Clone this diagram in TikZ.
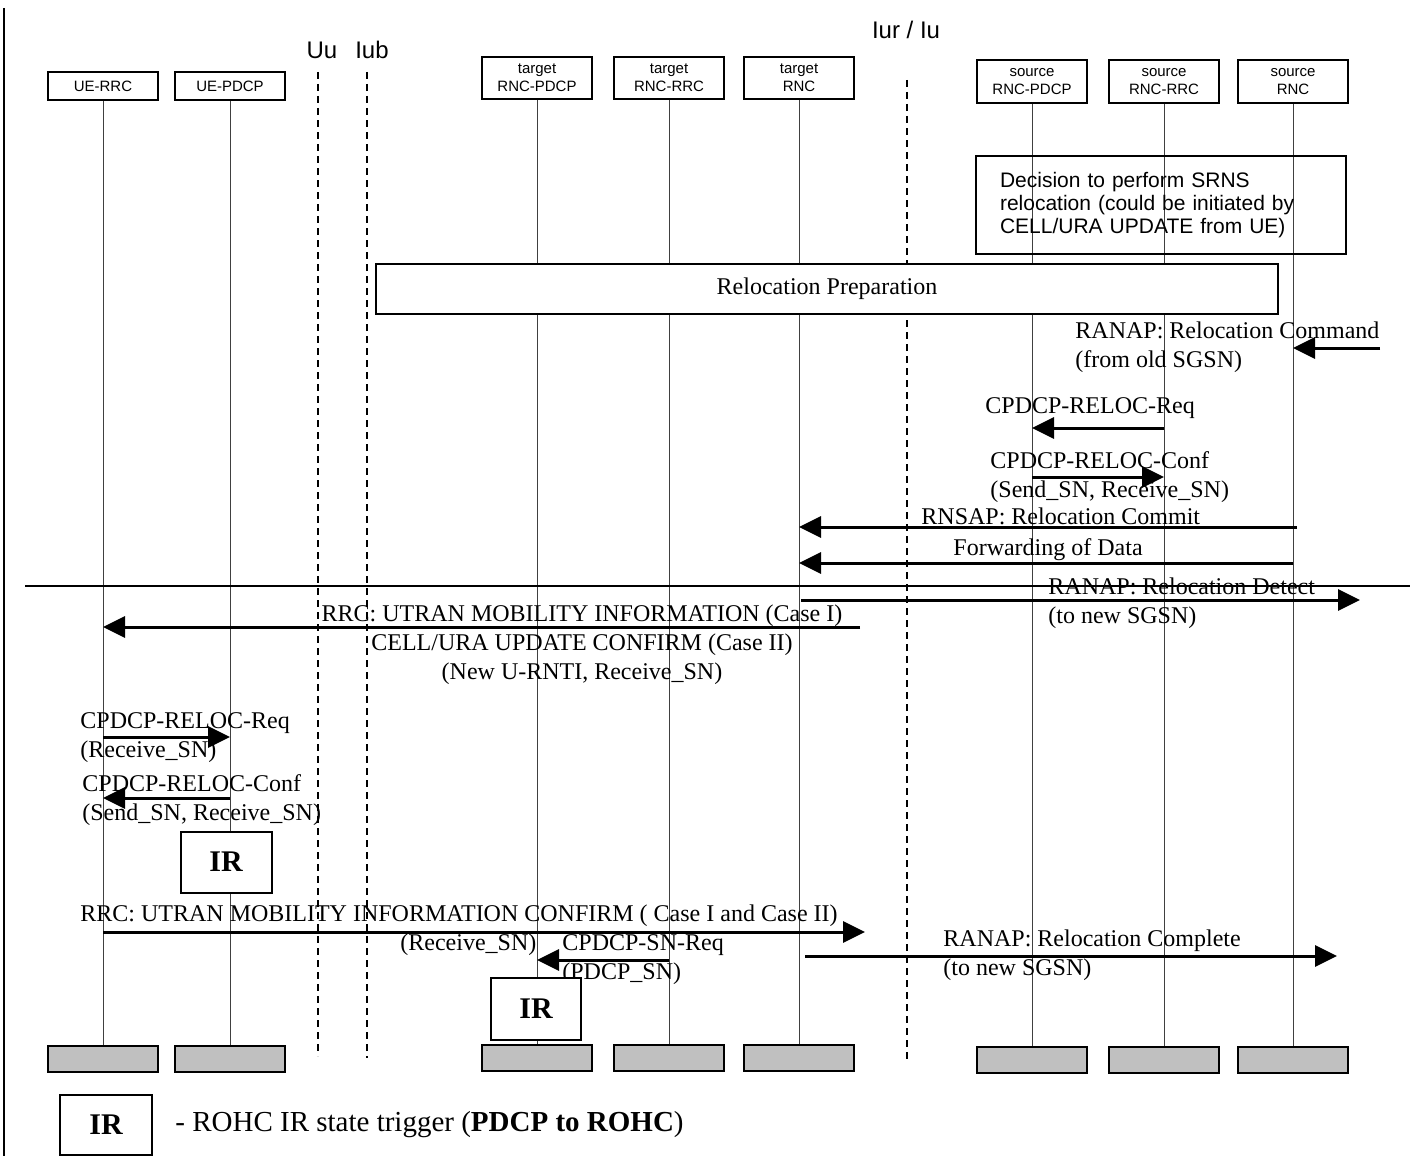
\documentclass[tikz,border=0pt]{standalone}
\usepackage{fontspec}
\setmainfont{Liberation Serif}
\setsansfont{Liberation Sans}
\usetikzlibrary{arrows.meta}
\definecolor{gboxgray}{RGB}{192,192,192}
\tikzset{
  hbox/.style={draw, line width=1pt, font=\sffamily\fontsize{7.5}{9}\selectfont, align=center, minimum width=55pt, inner sep=1pt},
  gbox/.style={draw, line width=0.9pt, fill=gboxgray, minimum width=55pt, minimum height=13pt, inner sep=0pt},
  life/.style={line width=0.5pt, draw=black!75},
  iface/.style={line width=0.8pt, dash pattern=on 3.5pt off 2.5pt},
  msg/.style={line width=1.5pt, -{Triangle[length=11pt,width=10.5pt]}},
  lbl/.style={font=\fontsize{12}{14.5}\selectfont, inner sep=0pt, align=left, anchor=west},
  irbox/.style={draw, line width=1pt, fill=white, minimum width=45.5pt, minimum height=30.5pt, inner sep=0pt, font=\bfseries\fontsize{15}{18}\selectfont},
  ifl/.style={font=\sffamily\fontsize{12}{14}\selectfont, inner sep=0pt}
}
\begin{document}
\begin{tikzpicture}[x=0.5pt,y=-0.5pt]
\useasboundingbox (0,0) rectangle (1417,1156);
% left border
\coordinate (lb1) at (4,8); \coordinate (lb2) at (4,1156);
\draw[line width=1pt] (lb1) -- (lb2);

% headers
\node[hbox, minimum height=14pt] (uerrc) at (103,86) {UE-RRC};
\node[hbox, minimum height=14pt] (uepdcp) at (230,86) {UE-PDCP};
\node[hbox, minimum height=21pt] (tpdcp) at (537,78) {target\\RNC-PDCP};
\node[hbox, minimum height=21pt] (trrc) at (669,78) {target\\RNC-RRC};
\node[hbox, minimum height=21pt] (trnc) at (799,78) {target\\RNC};
\node[hbox, minimum height=21.5pt] (spdcp) at (1032,82) {source\\RNC-PDCP};
\node[hbox, minimum height=21.5pt] (srrc) at (1164,82) {source\\RNC-RRC};
\node[hbox, minimum height=21.5pt] (srnc) at (1293,82) {source\\RNC};

% bottom grey boxes
\node[gbox] (guerrc) at (103,1059) {};
\node[gbox] (guepdcp) at (230,1059) {};
\node[gbox] (gtpdcp) at (537,1058) {};
\node[gbox] (gtrrc) at (669,1058) {};
\node[gbox] (gtrnc) at (799,1058) {};
\node[gbox] (gspdcp) at (1032,1060) {};
\node[gbox] (gsrrc) at (1164,1060) {};
\node[gbox] (gsrnc) at (1293,1060) {};

% lifelines
\draw[life] (uerrc.south) -- (guerrc.north);
\draw[life] (uepdcp.south) -- (guepdcp.north);
\draw[life] (tpdcp.south) -- (gtpdcp.north);
\draw[life] (trrc.south) -- (gtrrc.north);
\draw[life] (trnc.south) -- (gtrnc.north);
\draw[life] (spdcp.south) -- (gspdcp.north);
\draw[life] (srrc.south) -- (gsrrc.north);
\draw[life] (srnc.south) -- (gsrnc.north);

% interfaces
\node[ifl] (uu) at (322,50) {Uu};
\node[ifl] (iub) at (372,50) {Iub};
\node[ifl] (iur) at (906,30) {Iur / Iu};
\coordinate (uua) at (318,72); \coordinate (uub) at (318,1056);
\coordinate (iuba) at (367,72); \coordinate (iubb) at (367,1058);
\coordinate (iura) at (907,80); \coordinate (iurb) at (907,1060);
\draw[iface] (uua) -- (uub);
\draw[iface] (iuba) -- (iubb);
\draw[iface] (iura) -- (iurb);

% decision box
\node[draw, line width=1pt, minimum width=185pt, minimum height=49pt, text width=161pt, inner xsep=12pt, inner ysep=0pt, align=left,
      font=\sffamily\fontsize{10.5}{11.5}\selectfont] (dec) at (1161,205)
  {Decision to perform SRNS\\relocation (could be initiated by\\CELL/URA UPDATE from UE)};

% relocation preparation
\node[draw, line width=1pt, fill=white, minimum width=451pt, minimum height=25pt, inner sep=0pt, font=\fontsize{12}{14.5}\selectfont] (prep) at (827,289) {Relocation Preparation};

% messages
\node[lbl] (t1) at (1075,347) {RANAP: Relocation Command\\(from old SGSN)};
\coordinate (c1a) at (1380,348); \coordinate (c1b) at (1293,348);
\draw[msg] (c1a) -- (c1b);

\node[lbl] (t2) at (985,408) {CPDCP-RELOC-Req};
\coordinate (c2a) at (1164,428); \coordinate (c2b) at (1032,428);
\draw[msg] (c2a) -- (c2b);

\node[lbl] (t3) at (990,477) {CPDCP-RELOC-Conf\\(Send\_SN, Receive\_SN)};
\coordinate (c3a) at (1032,477); \coordinate (c3b) at (1164,477);
\draw[msg] (c3a) -- (c3b);

\node[lbl] (t4) at (921,516) {RNSAP: Relocation Commit};
\coordinate (c4a) at (1297,527); \coordinate (c4b) at (799,527);
\draw[msg] (c4a) -- (c4b);

\node[lbl] (t5) at (953,550) {Forwarding of Data};
\coordinate (c5a) at (1293,563); \coordinate (c5b) at (799,563);
\draw[msg] (c5a) -- (c5b);

\coordinate (r1) at (25,586); \coordinate (r2) at (1410,586);
\draw[line width=0.6pt] (r1) -- (r2);

\node[lbl] (t6) at (1048,603) {RANAP: Relocation Detect\\(to new SGSN)};
\coordinate (c6a) at (801,600); \coordinate (c6b) at (1360,600);
\draw[msg] (c6a) -- (c6b);

\node[lbl, anchor=center, align=center] (t7) at (582,645) {RRC: UTRAN MOBILITY INFORMATION (Case I)\\CELL/URA UPDATE CONFIRM (Case II)\\(New U-RNTI, Receive\_SN)};
\coordinate (c7a) at (860,627); \coordinate (c7b) at (103,627);
\draw[msg] (c7a) -- (c7b);

\node[lbl] (t8) at (80,738) {CPDCP-RELOC-Req\\(Receive\_SN)};
\coordinate (c8a) at (103,737); \coordinate (c8b) at (230,737);
\draw[msg] (c8a) -- (c8b);

\node[lbl] (t9) at (82,800) {CPDCP-RELOC-Conf\\(Send\_SN, Receive\_SN)};
\coordinate (c9a) at (230,798); \coordinate (c9b) at (103,798);
\draw[msg] (c9a) -- (c9b);

\node[irbox] (ir1) at (226,862) {IR};

\node[lbl] (t10) at (80,916) {RRC: UTRAN MOBILITY INFORMATION CONFIRM ( Case I and Case II)};
\node[lbl] (t10b) at (400,945) {(Receive\_SN)};
\coordinate (c10a) at (103,932); \coordinate (c10b) at (865,932);
\draw[msg] (c10a) -- (c10b);

\node[lbl] (t11) at (562,960) {CPDCP-SN-Req\\(PDCP\_SN)};
\coordinate (c11a) at (669,960); \coordinate (c11b) at (537,960);
\draw[msg] (c11a) -- (c11b);

\node[lbl] (t12) at (943,955) {RANAP: Relocation Complete\\(to new SGSN)};
\coordinate (c12a) at (805,956); \coordinate (c12b) at (1337,956);
\draw[msg] (c12a) -- (c12b);

\node[irbox, minimum width=45pt, minimum height=31pt] (ir2) at (536,1009) {IR};

% legend
\node[irbox, minimum width=46pt, minimum height=30pt] (irl) at (106,1125) {IR};
\node[lbl, font=\fontsize{14.5}{17}\selectfont] (leg) at (175,1125) {- ROHC IR state trigger (\textbf{PDCP to ROHC})};
\end{tikzpicture}
\end{document}
